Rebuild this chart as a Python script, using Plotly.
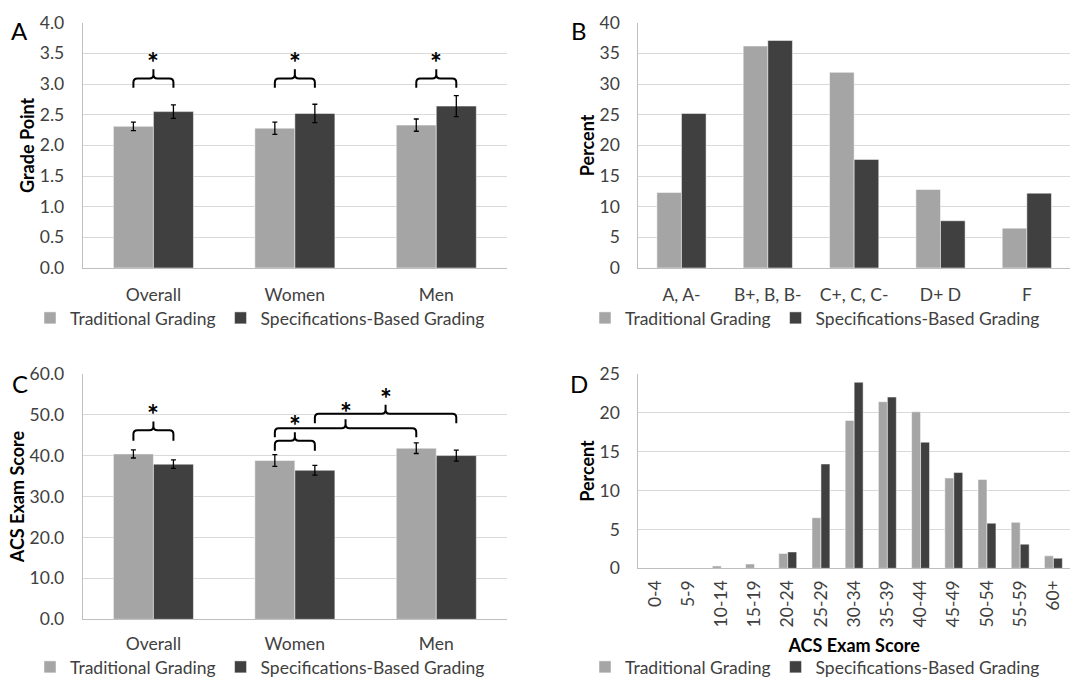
import plotly.graph_objects as go

# ---------------- data ----------------
groups = ["Overall", "Women", "Men"]
gpa_trad = [2.31, 2.28, 2.33]
gpa_trad_err = [0.07, 0.10, 0.10]
gpa_sbg = [2.55, 2.52, 2.64]
gpa_sbg_err = [0.11, 0.15, 0.17]

grade_cats = ["A, A-", "B+, B, B-", "C+, C, C-", "D+ D", "F"]
grade_trad = [12.3, 36.2, 31.9, 12.8, 6.5]
grade_sbg = [25.2, 37.1, 17.7, 7.7, 12.2]

acs_trad = [40.4, 38.8, 41.8]
acs_trad_err = [1.0, 1.45, 1.3]
acs_sbg = [37.9, 36.4, 40.0]
acs_sbg_err = [1.05, 1.2, 1.35]

score_bins = ["0-4", "5-9", "10-14", "15-19", "20-24", "25-29", "30-34",
              "35-39", "40-44", "45-49", "50-54", "55-59", "60+"]
score_trad = [0, 0, 0.3, 0.55, 1.9, 6.5, 19.0, 21.4, 20.1, 11.6, 11.4, 5.9, 1.6]
score_sbg = [0, 0, 0, 0, 2.1, 13.4, 23.9, 22.0, 16.2, 12.3, 5.8, 3.1, 1.3]

series_names = ["Traditional Grading", "Specifications-Based Grading"]
# --------------------------------------

W, H = 1071, 679
C_TRAD = "#a5a5a5"
C_SBG = "#404040"
TXT = "#404040"
FONT = "Lato"
FS = 17.5

# plot areas in px (left, right, top, bottom)
areas = {
    "A": (82.7, 507.0, 22.7, 268.0),
    "B": (638.3, 1070.0, 22.7, 268.0),
    "C": (82.7, 507.0, 373.7, 619.3),
    "D": (638.3, 1070.0, 373.7, 568.3),
}


def dom(a):
    l, r, t, b = areas[a]
    return [l / W, r / W], [1 - b / H, 1 - t / H]


fig = go.Figure()


def add_pair(xname, yname, cats, trad, sbg, bw, legend, trad_err=None, sbg_err=None):
    xs = list(range(len(cats)))
    eb = lambda arr: None if arr is None else dict(type="data", array=arr, color="black",
                                                    thickness=1.3, width=2.5)
    fig.add_trace(go.Bar(x=xs, y=trad, name=series_names[0], marker_color=C_TRAD,
                         marker_line=dict(color="white", width=0.5),
                         width=bw, offset=-bw, xaxis=xname, yaxis=yname,
                         error_y=eb(trad_err), legend=legend, showlegend=True))
    fig.add_trace(go.Bar(x=xs, y=sbg, name=series_names[1], marker_color=C_SBG,
                         marker_line=dict(color="white", width=0.5),
                         width=bw, offset=0, xaxis=xname, yaxis=yname,
                         error_y=eb(sbg_err), legend=legend, showlegend=True))


BW_A = 0.283
BW_D = 0.27
add_pair("x", "y", groups, gpa_trad, gpa_sbg, BW_A, "legend", gpa_trad_err, gpa_sbg_err)
add_pair("x2", "y2", grade_cats, grade_trad, grade_sbg, 0.285, "legend2")
add_pair("x3", "y3", groups, acs_trad, acs_sbg, BW_A, "legend3", acs_trad_err, acs_sbg_err)
add_pair("x4", "y4", score_bins, score_trad, score_sbg, BW_D, "legend4")

tickfont = dict(family=FONT, size=FS, color=TXT)
titlefont = dict(family=FONT, size=18, color="black", weight="bold")


def xax(a, cats, angle=0, standoff=11):
    d, _ = dom(a)
    return dict(domain=d, range=[-0.5, len(cats) - 0.5], tickvals=list(range(len(cats))),
                ticktext=cats, showgrid=False, zeroline=False, showline=True,
                linecolor="#bfbfbf", linewidth=1, ticks="", tickfont=tickfont,
                tickangle=angle, ticklabelstandoff=standoff, fixedrange=True)


def yax(a, rng, dtick, fmt, title, standoff):
    _, d = dom(a)
    return dict(domain=d, range=rng, dtick=dtick, tickformat=fmt, showgrid=True,
                gridcolor="#d9d9d9", gridwidth=1, zeroline=False, showline=True,
                linecolor="#bfbfbf", linewidth=1, ticks="", tickfont=tickfont,
                ticklabelstandoff=14, fixedrange=True,
                title=dict(text=title, font=titlefont, standoff=standoff))


fig.update_layout(
    xaxis=dict(xax("A", groups), anchor="y"),
    yaxis=dict(yax("A", [0, 4], 0.5, ".1f", "Grade Point", 0), anchor="x"),
    xaxis2=dict(xax("B", grade_cats), anchor="y2"),
    yaxis2=dict(yax("B", [0, 40], 5, "d", "Percent", 0), anchor="x2"),
    xaxis3=dict(xax("C", groups, standoff=9), anchor="y3"),
    yaxis3=dict(yax("C", [0, 60], 10, ".1f", "ACS Exam Score", 0), anchor="x3"),
    xaxis4=dict(xax("D", score_bins, angle=-90, standoff=4), anchor="y4",
                title=dict(text="ACS Exam Score", font=titlefont, standoff=12)),
    yaxis4=dict(yax("D", [0, 25], 5, "d", "Percent", 0), anchor="x4"),
)


# legends
def leg(xpx, ypx):
    return dict(orientation="h", x=xpx / W, y=1 - ypx / H, xanchor="left", yanchor="middle",
                font=dict(family=FONT, size=FS, color=TXT), itemwidth=30,
                bgcolor="rgba(0,0,0,0)", tracegroupgap=0,
                itemclick=False, itemdoubleclick=False)


fig.update_layout(
    legend=leg(30, 318),
    legend2=leg(585, 318),
    legend3=leg(30, 667),
    legend4=leg(585, 667),
)


# significance braces
def brace(xref, yref, x0, x1, yb, ym, yt, kx, ky, r=4):
    rx, ry = r / kx, r / ky
    xm = (x0 + x1) / 2
    p = (f"M{x0},{yb} L{x0},{ym - ry} Q{x0},{ym} {x0 + rx},{ym} "
         f"L{xm - rx},{ym} Q{xm},{ym} {xm},{ym + ry} L{xm},{yt} "
         f"M{xm},{ym + ry} Q{xm},{ym} {xm + rx},{ym} "
         f"L{x1 - rx},{ym} Q{x1},{ym} {x1},{ym - ry} L{x1},{yb}")
    fig.add_shape(type="path", path=p, xref=xref, yref=yref,
                  line=dict(color="black", width=2))


def star(xref, yref, x, y):
    fig.add_annotation(x=x, y=y, xref=xref, yref=yref, text="<b>*</b>", showarrow=False,
                       font=dict(family=FONT, size=28, color="black"), yanchor="middle")


kxA = (areas["A"][1] - areas["A"][0]) / 3
kyA = (areas["A"][3] - areas["A"][2]) / 4
kyC = (areas["C"][3] - areas["C"][2]) / 60
h = BW_A / 2

for i in range(3):
    brace("x", "y", i - h, i + h, 2.94, 3.09, 3.24, kxA, kyA)
    star("x", "y", i, 3.36)

brace_c = [  # (x0, x1, y_leg, y_bar, y_tip, y_star)
    (0 - h, 0 + h, 43.6, 46.2, 48.3, 50.2),
    (1 - h, 1 + h, 41.2, 43.6, 45.7, 47.4),
    (1 - h, 2 - h, 44.5, 46.7, 48.9, 50.7),
    (1 + h, 2 + h, 47.9, 50.2, 52.4, 54.1),
]
for x0, x1, yb, ym, yt, ys in brace_c:
    brace("x3", "y3", x0, x1, yb, ym, yt, kxA, kyC)
    star("x3", "y3", (x0 + x1) / 2, ys)

# panel letters
for letter, xp, yp in [("A", 19, 31), ("B", 579, 31), ("C", 20, 383), ("D", 579, 383)]:
    fig.add_annotation(x=xp / W, y=1 - yp / H, xref="paper", yref="paper", text=letter,
                       showarrow=False, font=dict(family=FONT, size=24, color="black"),
                       xanchor="center", yanchor="middle")

fig.update_layout(width=W, height=H, margin=dict(l=0, r=0, t=0, b=0, autoexpand=False),
                  paper_bgcolor="white", plot_bgcolor="white", barmode="overlay",
                  font=dict(family=FONT, color=TXT))

fig.write_html("out.html", config={"displayModeBar": False},
               post_script="document.body.style.margin='0';document.body.style.overflow='hidden';")
